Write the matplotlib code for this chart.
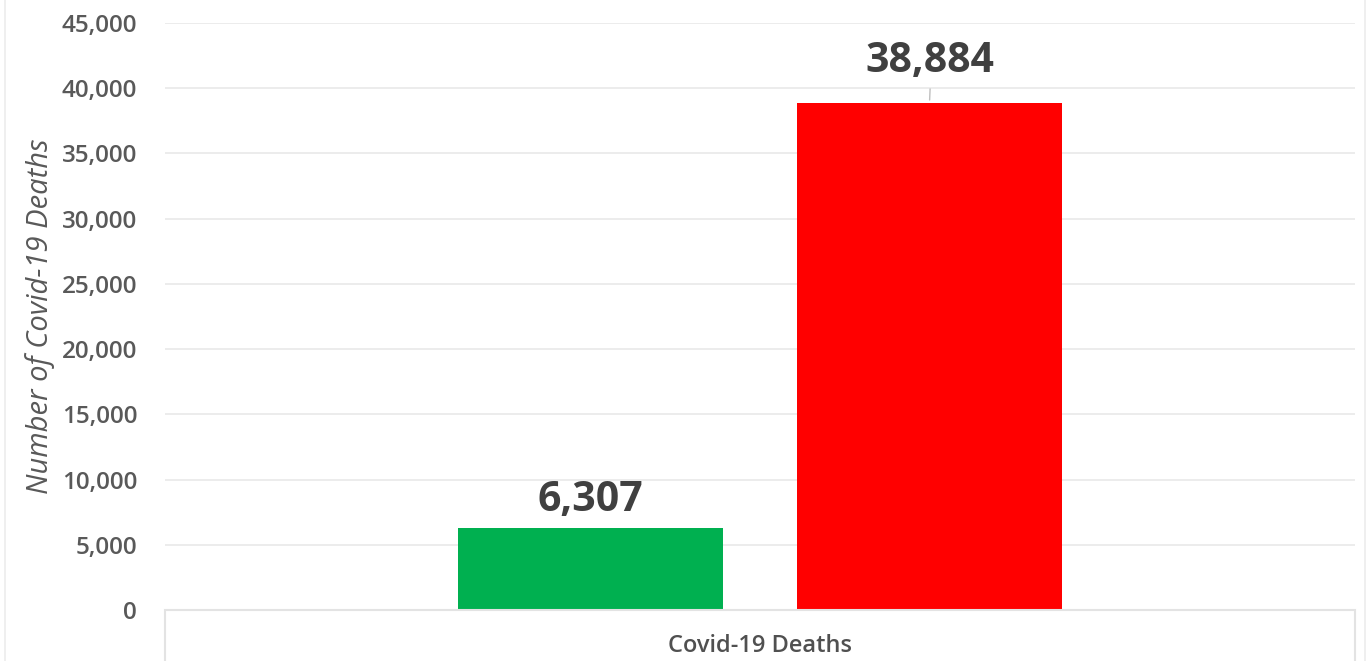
import matplotlib.pyplot as plt
from matplotlib.patches import Rectangle
from matplotlib.lines import Line2D

category = 'Covid-19 Deaths'
series_values = [6307, 38884]
series_colors = ['#00b050', '#ff0000']
yticks = [0, 5000, 10000, 15000, 20000, 25000, 30000, 35000, 40000, 45000]

plt.rcParams['font.family'] = ['Open Sans', 'DejaVu Sans']

W, H = 1368, 661
fig = plt.figure(figsize=(W / 100, H / 100), dpi=100)
ax = fig.add_axes([165 / W, 1 - 610 / H, 1190 / W, 587 / H])

xpos = [-0.5, 0.5]
ax.bar(xpos, series_values, width=0.78, color=series_colors, zorder=3)
ax.set_xlim(-1.755, 1.755)
ax.set_ylim(0, 45000)

ax.set_yticks(yticks)
ax.set_yticklabels(['{:,}'.format(v) for v in yticks], fontsize=17.5,
                   color='#595959', fontweight='semibold')
ax.tick_params(axis='y', length=0, pad=20)
ax.set_xticks([])
ax.grid(axis='y', color='#e9e9e9', linewidth=1.2, zorder=0)
for s in ['top', 'right', 'left', 'bottom']:
    ax.spines[s].set_visible(False)

ax.set_ylabel('Number of Covid-19 Deaths', fontsize=21, style='italic',
              color='#595959')
ax.yaxis.set_label_coords(-110 / 1190, 0.5)

# data labels
ax.annotate('{:,}'.format(series_values[0]), (xpos[0], series_values[0]),
            xytext=(0, 12), textcoords='offset points', ha='center', va='baseline',
            fontsize=29.5, fontweight='bold', color='#404040')
ax.annotate('{:,}'.format(series_values[1]), (xpos[1], series_values[1]),
            xytext=(0, 22), textcoords='offset points', ha='center', va='baseline',
            fontsize=29.5, fontweight='bold', color='#404040')
ax.annotate('', (xpos[1], series_values[1]), xytext=(0.5, 12), textcoords='offset points',
            arrowprops=dict(arrowstyle='-', color='#bfbfbf', lw=1))

# category axis box
fig.patches.append(Rectangle((165 / W, -0.05), 1190 / W, 0.05 + 1 - 610 / H,
                             transform=fig.transFigure, fill=False,
                             edgecolor='#e3e3e3', linewidth=1.5))
fig.text(760 / W, 1 - 646 / H, category, ha='center', va='center',
         fontsize=17, color='#505050', fontweight='semibold')

# chart border
fig.lines.append(Line2D([5 / W, 5 / W], [0, 1], transform=fig.transFigure,
                        color='#ececec', linewidth=1.2))
fig.lines.append(Line2D([1365 / W, 1365 / W], [0, 1], transform=fig.transFigure,
                        color='#ececec', linewidth=1.2))

fig.savefig('out.png', dpi=100)
